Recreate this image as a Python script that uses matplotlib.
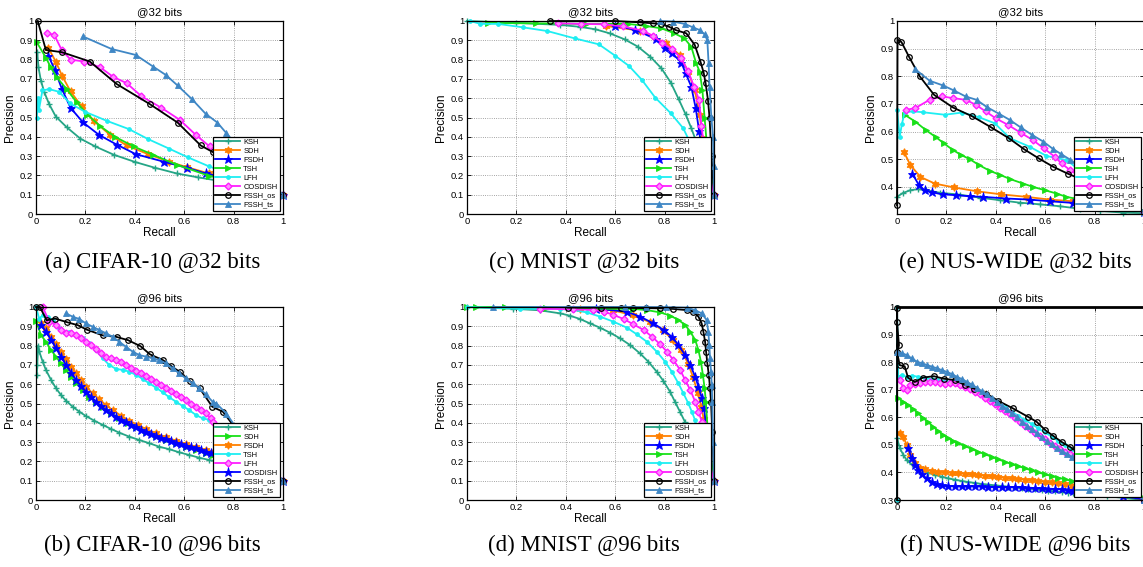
import matplotlib
matplotlib.use("Agg")
import matplotlib.pyplot as plt
from matplotlib.ticker import FuncFormatter

plt.rcParams["font.family"] = ["Liberation Sans", "DejaVu Sans"]

methods = ["KSH", "SDH", "FSDH", "TSH", "LFH", "COSDISH", "FSSH_os", "FSSH_ts"]

# precision-recall curves: name -> (recall, precision)
cifar32 = {
    "KSH": ([0.005, 0.01, 0.02, 0.034, 0.053, 0.08, 0.124, 0.18, 0.24, 0.315, 0.40, 0.48, 0.57, 0.655, 0.75, 0.85, 1.0],
            [0.84, 0.76, 0.69, 0.63, 0.57, 0.505, 0.45, 0.39, 0.35, 0.307, 0.27, 0.24, 0.21, 0.19, 0.17, 0.15, 0.10]),
    "SDH": ([0.05, 0.08, 0.106, 0.14, 0.185, 0.236, 0.30, 0.367, 0.454, 0.54, 0.61, 0.70, 0.80, 1.0],
            [0.86, 0.79, 0.715, 0.635, 0.557, 0.48, 0.41, 0.355, 0.31, 0.27, 0.243, 0.21, 0.18, 0.10]),
    "FSDH": ([0.05, 0.077, 0.104, 0.14, 0.19, 0.255, 0.326, 0.404, 0.52, 0.61, 0.687, 0.80, 1.0],
             [0.82, 0.745, 0.65, 0.55, 0.475, 0.41, 0.36, 0.31, 0.27, 0.24, 0.21, 0.18, 0.10]),
    "TSH": ([0.003, 0.04, 0.06, 0.083, 0.124, 0.164, 0.208, 0.26, 0.32, 0.395, 0.474, 0.57, 0.70, 0.80, 1.0],
            [0.89, 0.81, 0.76, 0.71, 0.647, 0.58, 0.515, 0.455, 0.40, 0.35, 0.307, 0.255, 0.198, 0.17, 0.10]),
    "LFH": ([0.003, 0.01, 0.012, 0.026, 0.053, 0.094, 0.137, 0.198, 0.286, 0.376, 0.454, 0.54, 0.616, 0.70, 0.80, 1.0],
            [0.50, 0.60, 0.54, 0.64, 0.647, 0.633, 0.574, 0.53, 0.483, 0.44, 0.388, 0.338, 0.293, 0.247, 0.20, 0.10]),
    "COSDISH": ([0.046, 0.074, 0.104, 0.14, 0.195, 0.26, 0.313, 0.367, 0.427, 0.508, 0.582, 0.647, 0.703, 0.80, 1.0],
                [0.936, 0.928, 0.85, 0.80, 0.79, 0.76, 0.71, 0.678, 0.61, 0.55, 0.488, 0.41, 0.35, 0.25, 0.10]),
    "FSSH_os": ([0.007, 0.04, 0.106, 0.218, 0.326, 0.46, 0.573, 0.667, 0.717, 0.80, 1.0],
                [1.0, 0.85, 0.838, 0.79, 0.674, 0.57, 0.474, 0.355, 0.32, 0.25, 0.10]),
    "FSSH_ts": ([0.19, 0.306, 0.404, 0.474, 0.526, 0.573, 0.63, 0.687, 0.734, 0.77, 0.85, 1.0],
                [0.92, 0.855, 0.824, 0.764, 0.72, 0.666, 0.597, 0.519, 0.474, 0.42, 0.30, 0.10]),
}

mnist32 = {
    "KSH": ([0.0, 0.2, 0.375, 0.456, 0.52, 0.578, 0.638, 0.692, 0.742, 0.787, 0.825, 0.857, 0.885, 0.908, 0.95, 1.0],
            [1.0, 0.99, 0.98, 0.97, 0.957, 0.936, 0.905, 0.867, 0.815, 0.755, 0.681, 0.595, 0.517, 0.445, 0.30, 0.10]),
    "SDH": ([0.564, 0.70, 0.807, 0.861, 0.895, 0.922, 0.942, 0.953, 0.97, 1.0],
            [0.974, 0.95, 0.885, 0.824, 0.738, 0.643, 0.514, 0.393, 0.25, 0.10]),
    "FSDH": ([0.60, 0.68, 0.767, 0.803, 0.831, 0.868, 0.885, 0.908, 0.926, 0.94, 0.96, 1.0],
             [0.975, 0.955, 0.905, 0.862, 0.833, 0.784, 0.73, 0.66, 0.548, 0.428, 0.25, 0.10]),
    "TSH": ([0.085, 0.278, 0.483, 0.652, 0.726, 0.787, 0.84, 0.88, 0.908, 0.928, 0.942, 0.953, 0.962, 0.975, 1.0],
            [0.99, 0.988, 0.985, 0.985, 0.974, 0.962, 0.936, 0.91, 0.867, 0.78, 0.738, 0.643, 0.497, 0.30, 0.10]),
    "LFH": ([0.013, 0.054, 0.126, 0.227, 0.325, 0.436, 0.534, 0.60, 0.656, 0.708, 0.762, 0.825, 0.875, 0.93, 1.0],
            [1.0, 0.985, 0.985, 0.967, 0.948, 0.91, 0.879, 0.82, 0.767, 0.695, 0.603, 0.522, 0.445, 0.30, 0.10]),
    "COSDISH": ([0.368, 0.463, 0.553, 0.632, 0.712, 0.753, 0.79, 0.831, 0.865, 0.895, 0.919, 0.94, 0.949, 0.965, 1.0],
                [0.988, 0.985, 0.983, 0.972, 0.95, 0.923, 0.888, 0.853, 0.81, 0.741, 0.66, 0.59, 0.457, 0.30, 0.10]),
    "FSSH_os": ([0.335, 0.598, 0.70, 0.753, 0.787, 0.818, 0.845, 0.888, 0.922, 0.946, 0.958, 0.966, 0.976, 0.982, 0.99, 1.0],
                [1.0, 1.0, 0.993, 0.988, 0.984, 0.97, 0.953, 0.936, 0.876, 0.786, 0.733, 0.678, 0.586, 0.497, 0.30, 0.10]),
    "FSSH_ts": ([0.783, 0.834, 0.881, 0.915, 0.942, 0.962, 0.973, 0.978, 0.982, 0.989, 0.996, 0.998, 1.0],
                [1.0, 0.997, 0.985, 0.967, 0.953, 0.931, 0.90, 0.784, 0.66, 0.505, 0.40, 0.25, 0.10]),
}

nus32 = {
    "KSH": ([0.0, 0.024, 0.054, 0.085, 0.119, 0.173, 0.254, 0.335, 0.416, 0.497, 0.578, 0.659, 0.74, 0.822, 0.916, 1.0],
            [0.364, 0.378, 0.388, 0.392, 0.388, 0.379, 0.372, 0.361, 0.352, 0.343, 0.337, 0.33, 0.321, 0.313, 0.307, 0.305]),
    "SDH": ([0.028, 0.054, 0.095, 0.153, 0.231, 0.324, 0.423, 0.524, 0.619, 0.714, 0.808, 0.916, 1.0],
            [0.527, 0.479, 0.436, 0.412, 0.398, 0.384, 0.373, 0.364, 0.354, 0.348, 0.339, 0.327, 0.31]),
    "FSDH": ([0.062, 0.089, 0.112, 0.143, 0.186, 0.24, 0.295, 0.349, 0.443, 0.538, 0.619, 0.714, 0.808, 1.0],
             [0.448, 0.406, 0.388, 0.38, 0.373, 0.37, 0.366, 0.364, 0.358, 0.354, 0.348, 0.342, 0.336, 0.31]),
    "TSH": ([0.031, 0.074, 0.119, 0.159, 0.189, 0.227, 0.261, 0.295, 0.332, 0.376, 0.416, 0.459, 0.511, 0.551, 0.599,
             0.646, 0.686, 0.754, 0.85, 1.0],
            [0.661, 0.636, 0.604, 0.579, 0.558, 0.533, 0.515, 0.50, 0.479, 0.458, 0.444, 0.428, 0.412, 0.40, 0.388,
             0.376, 0.364, 0.352, 0.335, 0.31]),
    "LFH": ([0.0, 0.011, 0.02, 0.031, 0.065, 0.105, 0.193, 0.265, 0.332, 0.396, 0.457, 0.538, 0.605, 0.686, 0.80, 1.0],
            [0.679, 0.582, 0.628, 0.67, 0.673, 0.67, 0.661, 0.669, 0.652, 0.63, 0.576, 0.545, 0.512, 0.497, 0.42, 0.31]),
    "COSDISH": ([0.038, 0.074, 0.132, 0.184, 0.227, 0.278, 0.319, 0.359, 0.40, 0.45, 0.504, 0.549, 0.595, 0.639,
                 0.666, 0.70, 0.85, 1.0],
                [0.679, 0.685, 0.715, 0.727, 0.721, 0.715, 0.697, 0.673, 0.648, 0.624, 0.594, 0.57, 0.539, 0.509,
                 0.485, 0.461, 0.38, 0.31]),
    "FSSH_os": ([0.0, 0.002, 0.018, 0.049, 0.092, 0.15, 0.227, 0.305, 0.382, 0.453, 0.515, 0.574, 0.632, 0.691, 0.74,
                 0.85, 1.0],
                [0.333, 0.933, 0.924, 0.87, 0.80, 0.733, 0.687, 0.655, 0.615, 0.576, 0.536, 0.503, 0.473, 0.448, 0.43,
                 0.38, 0.31]),
    "FSSH_ts": ([0.072, 0.132, 0.186, 0.23, 0.278, 0.322, 0.365, 0.414, 0.457, 0.501, 0.547, 0.592, 0.632, 0.664, 0.70,
                 0.85, 1.0],
                [0.827, 0.784, 0.767, 0.749, 0.727, 0.715, 0.688, 0.664, 0.642, 0.615, 0.588, 0.564, 0.537, 0.519,
                 0.499, 0.40, 0.31]),
}

cifar96 = {
    "KSH": ([0.003, 0.005, 0.009, 0.013, 0.027, 0.04, 0.061, 0.081, 0.101, 0.121, 0.148, 0.175, 0.202, 0.236, 0.27,
             0.304, 0.337, 0.378, 0.418, 0.459, 0.499, 0.54, 0.58, 0.621, 0.661, 0.702, 0.729, 0.852, 1.0],
            [0.647, 0.70, 0.80, 0.77, 0.717, 0.674, 0.622, 0.579, 0.544, 0.515, 0.484, 0.458, 0.435, 0.411, 0.389,
             0.368, 0.349, 0.328, 0.311, 0.294, 0.276, 0.263, 0.247, 0.233, 0.219, 0.207, 0.199, 0.172, 0.10]),
    "SDH": ([0.0, 0.02, 0.04, 0.061, 0.081, 0.101, 0.121, 0.142, 0.162, 0.189, 0.216, 0.243, 0.27, 0.304, 0.337,
             0.371, 0.405, 0.445, 0.486, 0.526, 0.567, 0.607, 0.648, 0.688, 0.715, 0.85, 1.0],
            [0.93, 0.855, 0.82, 0.777, 0.743, 0.708, 0.674, 0.639, 0.608, 0.57, 0.535, 0.506, 0.48, 0.449, 0.423,
             0.401, 0.378, 0.354, 0.332, 0.311, 0.294, 0.276, 0.259, 0.245, 0.233, 0.19, 0.10]),
    "FSDH": ([0.02, 0.04, 0.061, 0.081, 0.101, 0.121, 0.142, 0.162, 0.182, 0.202, 0.229, 0.256, 0.283, 0.31, 0.344,
              0.378, 0.412, 0.445, 0.486, 0.526, 0.567, 0.607, 0.648, 0.688, 0.715, 0.85, 1.0],
             [0.915, 0.89, 0.846, 0.807, 0.769, 0.731, 0.691, 0.656, 0.622, 0.587, 0.553, 0.522, 0.492, 0.466, 0.437,
              0.411, 0.389, 0.368, 0.345, 0.325, 0.307, 0.29, 0.275, 0.259, 0.25, 0.21, 0.10]),
    "TSH": ([0.0, 0.013, 0.027, 0.047, 0.067, 0.094, 0.115, 0.135, 0.162, 0.189, 0.216, 0.243, 0.27, 0.297, 0.324,
             0.351, 0.378, 0.405, 0.432, 0.459, 0.486, 0.513, 0.54, 0.567, 0.594, 0.621, 0.648, 0.675, 0.702, 0.85, 1.0],
            [1.0, 0.94, 0.957, 0.95, 0.933, 0.889, 0.872, 0.872, 0.855, 0.838, 0.812, 0.777, 0.734, 0.699, 0.679,
             0.674, 0.665, 0.648, 0.627, 0.604, 0.582, 0.558, 0.532, 0.509, 0.487, 0.465, 0.44, 0.423, 0.415, 0.30, 0.10]),
    "LFH": ([0.027, 0.054, 0.081, 0.101, 0.121, 0.142, 0.162, 0.182, 0.202, 0.223, 0.243, 0.263, 0.283, 0.304, 0.324,
             0.344, 0.364, 0.385, 0.405, 0.425, 0.445, 0.466, 0.486, 0.506, 0.526, 0.547, 0.567, 0.587, 0.607, 0.628,
             0.648, 0.668, 0.688, 0.709, 0.715, 0.85, 1.0],
            [1.0, 0.924, 0.907, 0.881, 0.864, 0.864, 0.855, 0.838, 0.82, 0.803, 0.781, 0.76, 0.743, 0.734, 0.725,
             0.713, 0.699, 0.686, 0.67, 0.656, 0.642, 0.627, 0.61, 0.596, 0.582, 0.565, 0.549, 0.535, 0.518, 0.497,
             0.484, 0.466, 0.449, 0.423, 0.406, 0.30, 0.10]),
    "COSDISH": ([0.02, 0.04, 0.061, 0.081, 0.101, 0.121, 0.142, 0.162, 0.182, 0.202, 0.223, 0.243, 0.263, 0.283, 0.304,
                 0.324, 0.344, 0.364, 0.385, 0.405, 0.425, 0.445, 0.466, 0.486, 0.506, 0.526, 0.547, 0.567, 0.587,
                 0.607, 0.628, 0.648, 0.668, 0.688, 0.709, 0.85, 1.0],
                [0.907, 0.872, 0.829, 0.786, 0.743, 0.70, 0.66, 0.622, 0.591, 0.561, 0.535, 0.509, 0.487, 0.466, 0.449,
                 0.432, 0.416, 0.402, 0.389, 0.377, 0.364, 0.354, 0.342, 0.332, 0.323, 0.314, 0.306, 0.297, 0.288,
                 0.282, 0.275, 0.268, 0.259, 0.25, 0.244, 0.20, 0.10]),
    "FSSH_os": ([0.0, 0.016, 0.043, 0.077, 0.124, 0.171, 0.205, 0.27, 0.326, 0.373, 0.423, 0.461, 0.515, 0.548, 0.582,
                 0.623, 0.663, 0.714, 0.757, 0.85, 1.0],
                [1.0, 1.0, 0.931, 0.94, 0.922, 0.905, 0.883, 0.853, 0.845, 0.828, 0.797, 0.755, 0.724, 0.693, 0.664,
                 0.616, 0.578, 0.483, 0.457, 0.30, 0.10]),
    "FSSH_ts": ([0.121, 0.148, 0.175, 0.202, 0.229, 0.256, 0.283, 0.31, 0.337, 0.364, 0.391, 0.418, 0.445, 0.472, 0.499,
                 0.526, 0.553, 0.58, 0.607, 0.634, 0.661, 0.688, 0.715, 0.73, 0.771, 0.85, 1.0],
                [0.967, 0.95, 0.938, 0.915, 0.898, 0.881, 0.864, 0.846, 0.82, 0.794, 0.769, 0.751, 0.743, 0.734, 0.725,
                 0.708, 0.682, 0.656, 0.63, 0.604, 0.579, 0.547, 0.509, 0.50, 0.448, 0.30, 0.10]),
}

mnist96 = {
    "KSH": ([0.0, 0.186, 0.294, 0.377, 0.417, 0.457, 0.498, 0.538, 0.579, 0.619, 0.66, 0.70, 0.734, 0.768, 0.795,
             0.822, 0.842, 0.862, 0.882, 0.91, 0.94, 1.0],
            [1.0, 0.991, 0.983, 0.967, 0.955, 0.938, 0.915, 0.893, 0.867, 0.838, 0.803, 0.76, 0.717, 0.665, 0.617,
             0.561, 0.509, 0.458, 0.406, 0.33, 0.25, 0.10]),
    "SDH": ([0.456, 0.591, 0.672, 0.74, 0.794, 0.834, 0.868, 0.895, 0.915, 0.935, 0.949, 0.958, 0.97, 1.0],
            [0.991, 0.983, 0.957, 0.922, 0.879, 0.828, 0.776, 0.707, 0.638, 0.552, 0.483, 0.42, 0.30, 0.10]),
    "FSDH": ([0.524, 0.647, 0.701, 0.755, 0.796, 0.829, 0.856, 0.883, 0.904, 0.924, 0.937, 0.951, 0.96, 0.975, 1.0],
             [0.991, 0.976, 0.95, 0.915, 0.881, 0.846, 0.803, 0.751, 0.699, 0.639, 0.587, 0.527, 0.475, 0.30, 0.10]),
    "TSH": ([0.0, 0.038, 0.153, 0.321, 0.524, 0.674, 0.728, 0.782, 0.823, 0.856, 0.883, 0.904, 0.924, 0.937, 0.947,
             0.955, 0.962, 0.967, 0.975, 1.0],
            [1.0, 1.0, 1.0, 0.997, 0.991, 0.99, 0.984, 0.972, 0.955, 0.933, 0.907, 0.872, 0.829, 0.777, 0.717,
             0.648, 0.579, 0.51, 0.35, 0.10]),
    "LFH": ([0.0, 0.213, 0.377, 0.431, 0.485, 0.539, 0.593, 0.647, 0.688, 0.728, 0.768, 0.802, 0.829, 0.856, 0.876,
             0.896, 0.91, 0.923, 0.95, 1.0],
            [1.0, 0.991, 0.99, 0.984, 0.972, 0.95, 0.924, 0.893, 0.858, 0.82, 0.769, 0.717, 0.665, 0.604, 0.553,
             0.501, 0.458, 0.415, 0.25, 0.10]),
    "COSDISH": ([0.294, 0.429, 0.512, 0.553, 0.593, 0.634, 0.674, 0.715, 0.749, 0.782, 0.809, 0.836, 0.863, 0.883,
                 0.904, 0.924, 0.937, 0.951, 0.97, 1.0],
                [0.991, 0.988, 0.985, 0.976, 0.959, 0.938, 0.91, 0.881, 0.846, 0.807, 0.769, 0.725, 0.674, 0.622,
                 0.57, 0.509, 0.458, 0.406, 0.25, 0.10]),
    "FSSH_os": ([0.409, 0.544, 0.625, 0.672, 0.726, 0.781, 0.835, 0.889, 0.916, 0.937, 0.95, 0.957, 0.964, 0.968,
                 0.973, 0.979, 0.984, 0.988, 0.993, 1.0],
                [0.997, 0.997, 0.997, 0.995, 0.994, 0.993, 0.99, 0.984, 0.976, 0.95, 0.915, 0.872, 0.82, 0.769,
                 0.708, 0.648, 0.579, 0.51, 0.35, 0.10]),
    "FSSH_ts": ([0.105, 0.638, 0.726, 0.807, 0.889, 0.923, 0.95, 0.97, 0.977, 0.981, 0.984, 0.988, 0.991, 0.993,
                 0.996, 1.0],
                [1.0, 1.0, 1.0, 0.999, 0.997, 0.984, 0.967, 0.933, 0.872, 0.803, 0.734, 0.665, 0.596, 0.51, 0.30, 0.10]),
}

nus96 = {
    "KSH": ([0.0, 0.012, 0.026, 0.039, 0.059, 0.08, 0.1, 0.127, 0.154, 0.181, 0.208, 0.235, 0.262, 0.289, 0.316,
             0.343, 0.37, 0.397, 0.424, 0.451, 0.478, 0.505, 0.532, 0.559, 0.586, 0.613, 0.64, 0.667, 0.694, 0.714,
             0.849, 1.0],
            [0.524, 0.487, 0.463, 0.445, 0.429, 0.418, 0.409, 0.399, 0.391, 0.385, 0.378, 0.374, 0.369, 0.365, 0.362,
             0.358, 0.356, 0.353, 0.351, 0.348, 0.346, 0.343, 0.341, 0.339, 0.336, 0.334, 0.331, 0.329, 0.326, 0.324,
             0.314, 0.30]),
    "SDH": ([0.012, 0.026, 0.039, 0.053, 0.073, 0.093, 0.113, 0.14, 0.167, 0.194, 0.221, 0.248, 0.275, 0.302, 0.329,
             0.356, 0.383, 0.41, 0.437, 0.464, 0.491, 0.518, 0.545, 0.572, 0.599, 0.626, 0.653, 0.68, 0.707, 0.781,
             0.916, 1.0],
            [0.544, 0.53, 0.499, 0.463, 0.433, 0.417, 0.411, 0.406, 0.403, 0.40, 0.399, 0.397, 0.395, 0.393, 0.391,
             0.388, 0.386, 0.383, 0.381, 0.378, 0.376, 0.374, 0.371, 0.369, 0.366, 0.364, 0.36, 0.357, 0.352, 0.342,
             0.318, 0.30]),
    "FSDH": ([0.046, 0.059, 0.073, 0.086, 0.1, 0.12, 0.14, 0.161, 0.181, 0.208, 0.235, 0.262, 0.289, 0.316, 0.343,
              0.37, 0.397, 0.424, 0.451, 0.478, 0.505, 0.532, 0.559, 0.586, 0.613, 0.64, 0.667, 0.694, 0.714, 0.822,
              0.916, 1.0],
             [0.487, 0.451, 0.427, 0.409, 0.393, 0.378, 0.366, 0.358, 0.353, 0.351, 0.349, 0.349, 0.349, 0.349, 0.349,
              0.348, 0.348, 0.347, 0.347, 0.346, 0.346, 0.345, 0.343, 0.342, 0.341, 0.34, 0.339, 0.336, 0.334, 0.324,
              0.314, 0.302]),
    "TSH": ([0.005, 0.026, 0.046, 0.066, 0.086, 0.107, 0.127, 0.147, 0.167, 0.188, 0.208, 0.228, 0.248, 0.275, 0.302,
             0.329, 0.356, 0.383, 0.41, 0.437, 0.464, 0.491, 0.518, 0.545, 0.572, 0.599, 0.626, 0.653, 0.68, 0.707,
             0.781, 0.889, 1.0],
            [0.669, 0.657, 0.644, 0.63, 0.614, 0.596, 0.582, 0.566, 0.55, 0.536, 0.524, 0.514, 0.505, 0.496, 0.485,
             0.475, 0.466, 0.457, 0.447, 0.439, 0.43, 0.423, 0.415, 0.407, 0.40, 0.393, 0.387, 0.381, 0.375, 0.369,
             0.357, 0.336, 0.306]),
    "LFH": ([0.0, 0.0, 0.005, 0.019, 0.039, 0.059, 0.086, 0.113, 0.14, 0.167, 0.194, 0.221, 0.248, 0.275, 0.302,
             0.329, 0.356, 0.383, 0.41, 0.437, 0.464, 0.491, 0.518, 0.545, 0.572, 0.599, 0.626, 0.653, 0.68, 0.707,
             0.85, 1.0],
            [0.30, 1.0, 0.747, 0.753, 0.747, 0.751, 0.747, 0.741, 0.739, 0.735, 0.732, 0.727, 0.722, 0.715, 0.705,
             0.693, 0.678, 0.665, 0.651, 0.636, 0.62, 0.606, 0.59, 0.576, 0.56, 0.545, 0.53, 0.514, 0.499, 0.485,
             0.40, 0.30]),
    "COSDISH": ([0.012, 0.026, 0.039, 0.053, 0.073, 0.093, 0.113, 0.134, 0.154, 0.174, 0.194, 0.215, 0.235, 0.255,
                 0.275, 0.296, 0.316, 0.336, 0.356, 0.377, 0.397, 0.417, 0.437, 0.458, 0.478, 0.498, 0.518, 0.538,
                 0.559, 0.579, 0.599, 0.619, 0.64, 0.66, 0.68, 0.70, 0.85, 1.0],
                [0.735, 0.705, 0.699, 0.717, 0.719, 0.723, 0.727, 0.729, 0.727, 0.723, 0.722, 0.723, 0.723, 0.717,
                 0.711, 0.703, 0.693, 0.683, 0.671, 0.659, 0.647, 0.635, 0.623, 0.611, 0.599, 0.584, 0.57, 0.557,
                 0.544, 0.532, 0.52, 0.508, 0.496, 0.485, 0.475, 0.467, 0.40, 0.30]),
    "FSSH_os": ([0.0, 0.0, 0.0, 0.008, 0.0, 0.011, 0.031, 0.045, 0.072, 0.105, 0.149, 0.189, 0.234, 0.277, 0.312, 0.362,
                 0.409, 0.47, 0.53, 0.565, 0.601, 0.632, 0.666, 0.70, 0.85, 1.0],
                [0.30, 0.998, 0.946, 0.861, 0.837, 0.789, 0.785, 0.743, 0.728, 0.744, 0.749, 0.74, 0.735, 0.716, 0.704,
                 0.686, 0.66, 0.632, 0.602, 0.584, 0.553, 0.533, 0.511, 0.493, 0.40, 0.30]),
    "FSSH_ts": ([0.0, 0.019, 0.039, 0.059, 0.08, 0.1, 0.12, 0.14, 0.161, 0.181, 0.201, 0.221, 0.242, 0.262, 0.282,
                 0.302, 0.323, 0.343, 0.363, 0.383, 0.404, 0.424, 0.444, 0.464, 0.485, 0.505, 0.525, 0.545, 0.565,
                 0.586, 0.606, 0.626, 0.646, 0.667, 0.687, 0.707, 0.85, 1.0],
                [0.838, 0.832, 0.826, 0.814, 0.802, 0.796, 0.79, 0.784, 0.778, 0.771, 0.765, 0.757, 0.747, 0.739,
                 0.729, 0.719, 0.707, 0.695, 0.683, 0.669, 0.657, 0.642, 0.629, 0.614, 0.60, 0.584, 0.57, 0.556, 0.542,
                 0.527, 0.514, 0.502, 0.49, 0.478, 0.467, 0.457, 0.39, 0.30]),
}

# line styles, MATLAB-ish
styles = {
    "KSH": dict(color="#25a586", marker="+", ms=4.5, mew=1.0),
    "SDH": dict(color="#ff8000", marker=(6, 1, 0), ms=5.5, mew=0.8),
    "FSDH": dict(color="#0000ff", marker="*", ms=6.5, mew=0.6),
    "TSH": dict(color="#18e018", marker=">", ms=4.5, mew=0.6),
    "LFH": dict(color="#1eeef2", marker=".", ms=5.5, mew=0.6),
    "COSDISH": dict(color="#ff1cff", marker="D", ms=3.5, mew=1.0, mfc="#ff8cff"),
    "FSSH_os": dict(color="black", marker="o", ms=4.0, mew=0.9, mfc="none"),
    "FSSH_ts": dict(color="#3f87c5", marker="^", ms=4.5, mew=0.6),
}

# in (b) the legend names do not follow the usual styles
cifar96_styles = ["KSH", "TSH", "SDH", "LFH", "COSDISH", "FSDH", "FSSH_os", "FSSH_ts"]

W, H = 1143.0, 567.0
fig = plt.figure(figsize=(W / 100, H / 100), dpi=100)

panels = [
    (cifar32, "@32 bits", "(a) CIFAR-10 @32 bits", 36, 21, 214, (0, 1), methods, 153, 262),
    (cifar96, "@96 bits", "(b) CIFAR-10 @96 bits", 36, 307, 500, (0, 1), cifar96_styles, 152, 545),
    (mnist32, "@32 bits", "(c) MNIST @32 bits", 467, 21, 214, (0, 1), methods, 584, 262),
    (mnist96, "@96 bits", "(d) MNIST @96 bits", 467, 307, 500, (0, 1), methods, 584, 545),
    (nus32, "@32 bits", "(e) NUS-WIDE @32 bits", 897, 21, 214, (0.302, 1), methods, 1015, 262),
    (nus96, "@96 bits", "(f) NUS-WIDE @96 bits", 897, 307, 500, (0.3, 1), methods, 1015, 545),
]

fmt = FuncFormatter(lambda v, p: "%g" % round(v, 2))

for data, title, caption, left, top, bottom, ylim, style_keys, cx, cy in panels:
    ax = fig.add_axes([left / W, 1 - bottom / H, 247 / W, (bottom - top) / H])
    for name, skey in zip(methods, style_keys):
        rec, prec = data[name]
        st = styles[skey]
        ax.plot(rec, prec, label=name, lw=1.3, clip_on=False, **st)

    ax.set_xlim(0, 1)
    ax.set_ylim(*ylim)
    ax.set_xticks([0, 0.2, 0.4, 0.6, 0.8, 1])
    if ylim[0] > 0.3:
        ax.set_yticks([0.4, 0.5, 0.6, 0.7, 0.8, 0.9, 1])
    elif ylim[0] == 0.3:
        ax.set_yticks([0.3, 0.4, 0.5, 0.6, 0.7, 0.8, 0.9, 1])
    else:
        ax.set_yticks([0, 0.1, 0.2, 0.3, 0.4, 0.5, 0.6, 0.7, 0.8, 0.9, 1])
    ax.xaxis.set_major_formatter(fmt)
    ax.yaxis.set_major_formatter(fmt)
    ax.tick_params(direction="in", length=3, width=0.6, labelsize=6.8, pad=2,
                   top=True, right=True)
    ax.grid(True, linestyle=":", color="#888888", lw=0.6)
    for sp in ax.spines.values():
        sp.set_linewidth(0.9)
    if caption.startswith("(f)"):
        ax.spines["top"].set_linewidth(2.0)

    ax.set_title(title, fontsize=8.2, pad=4)
    ax.set_xlabel("Recall", fontsize=8.5, labelpad=1)
    ax.set_ylabel("Precision", fontsize=8.5, labelpad=3)

    leg = ax.legend(loc="lower right", fontsize=5.4, borderaxespad=0.45, borderpad=0.3,
                    handlelength=3.4, handletextpad=0.4, labelspacing=0.22,
                    fancybox=False, framealpha=1, edgecolor="black")
    leg.get_frame().set_linewidth(0.9)

    fig.text(cx / W, 1 - cy / H, caption, ha="center", va="center",
             fontsize=16.5, family="Liberation Serif")

fig.savefig("out.png", dpi=100)
